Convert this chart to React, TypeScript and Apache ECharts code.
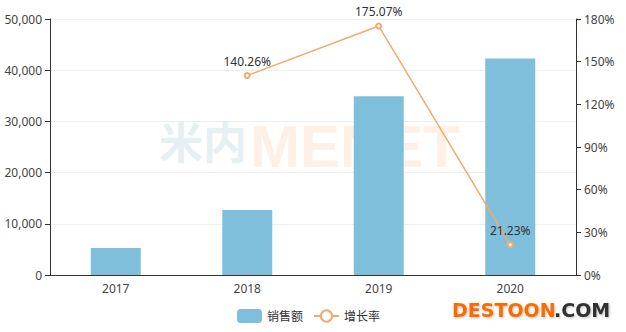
import React, { useEffect, useRef } from "react";
import * as echarts from "echarts";

const years = ["2017", "2018", "2019", "2020"];
const sales = [5280, 12686, 34895, 42303];
const growth = [null, 140.26, 175.07, 21.23];
const legendNames = ["销售额", "增长率"];

export default function App() {
  const ref = useRef<HTMLDivElement>(null);
  useEffect(() => {
    const chart = echarts.init(ref.current!, null, { renderer: "svg" });
    const font = "'Noto Sans', 'Noto Sans CJK SC', sans-serif";
    chart.setOption({
      animation: false,
      textStyle: { fontFamily: font },
      grid: { left: 50, right: 50, top: 19, bottom: 57 },
      legend: {
        bottom: 4,
        left: 232,
        itemWidth: 25,
        itemHeight: 14,
        itemGap: 10,
        textStyle: { color: "#333", fontSize: 12, fontFamily: font },
        data: [{ name: legendNames[0] }, { name: legendNames[1] }],
      },
      graphic: [
        {
          type: "text",
          left: 159,
          top: 118,
          z: 0,
          style: {
            text: "米内",
            fontSize: 44,
            fontWeight: "bold",
            fill: "rgba(214,230,236,0.6)",
            fontFamily: "'Noto Sans CJK SC', sans-serif",
          },
        },
        {
          type: "text",
          left: 250,
          top: 116,
          z: 0,
          style: {
            text: "MENET",
            fontSize: 60,
            fontWeight: "bold",
            fill: "rgba(253,228,205,0.55)",
            fontFamily: "'Liberation Sans', sans-serif",
          },
        },
        {
          type: "text",
          left: 452,
          top: 300,
          z: 100,
          style: {
            text: "DESTOON",
            fontSize: 19,
            fontWeight: "bold",
            fill: "#ff6a00",
            fontFamily: "'DejaVu Sans', sans-serif",
            textShadowColor: "rgba(0,0,0,0.25)",
            textShadowBlur: 2,
            textShadowOffsetX: 1,
            textShadowOffsetY: 1,
          },
        },
        {
          type: "text",
          left: 554,
          top: 300,
          z: 100,
          style: {
            text: ".COM",
            fontSize: 19,
            fontWeight: "bold",
            fill: "#333",
            fontFamily: "'DejaVu Sans', sans-serif",
            textShadowColor: "rgba(0,0,0,0.25)",
            textShadowBlur: 2,
            textShadowOffsetX: 1,
            textShadowOffsetY: 1,
          },
        },
      ],
      xAxis: {
        type: "category",
        data: years,
        axisLine: { lineStyle: { color: "#333" } },
        axisTick: { lineStyle: { color: "#333" } },
        axisLabel: { color: "#444", fontSize: 12, margin: 7 },
      },
      yAxis: [
        {
          type: "value",
          min: 0,
          max: 50000,
          interval: 10000,
          axisLine: { show: true, lineStyle: { color: "#333" } },
          axisTick: { show: true, lineStyle: { color: "#333" } },
          axisLabel: {
            color: "#444",
            fontSize: 12,
            formatter: (v: number) => v.toLocaleString("en-US"),
          },
          splitLine: { lineStyle: { color: "#eee" } },
        },
        {
          type: "value",
          min: 0,
          max: 180,
          interval: 30,
          axisLine: { show: true, lineStyle: { color: "#333" } },
          axisTick: { show: true, lineStyle: { color: "#333" } },
          axisLabel: { color: "#444", fontSize: 12, formatter: "{value}%" },
          splitLine: { show: false },
        },
      ],
      series: [
        {
          name: legendNames[0],
          type: "bar",
          data: sales,
          barWidth: "38%",
          itemStyle: { color: "#7fbfdc" },
          z: 2,
        },
        {
          name: legendNames[1],
          type: "line",
          yAxisIndex: 1,
          data: growth,
          symbol: "emptyCircle",
          symbolSize: 5,
          itemStyle: { color: "#f4a96c" },
          lineStyle: { color: "#f4a96c", width: 1.5 },
          label: {
            show: true,
            position: "top",
            color: "#333",
            fontSize: 12,
            formatter: (p: any) => p.value.toFixed(2) + "%",
          },
          z: 3,
        },
      ],
    });
    return () => chart.dispose();
  }, []);
  return (
    <div
      ref={ref}
      style={{ position: "absolute", left: 0, top: 0, width: 626, height: 332 }}
    />
  );
}
